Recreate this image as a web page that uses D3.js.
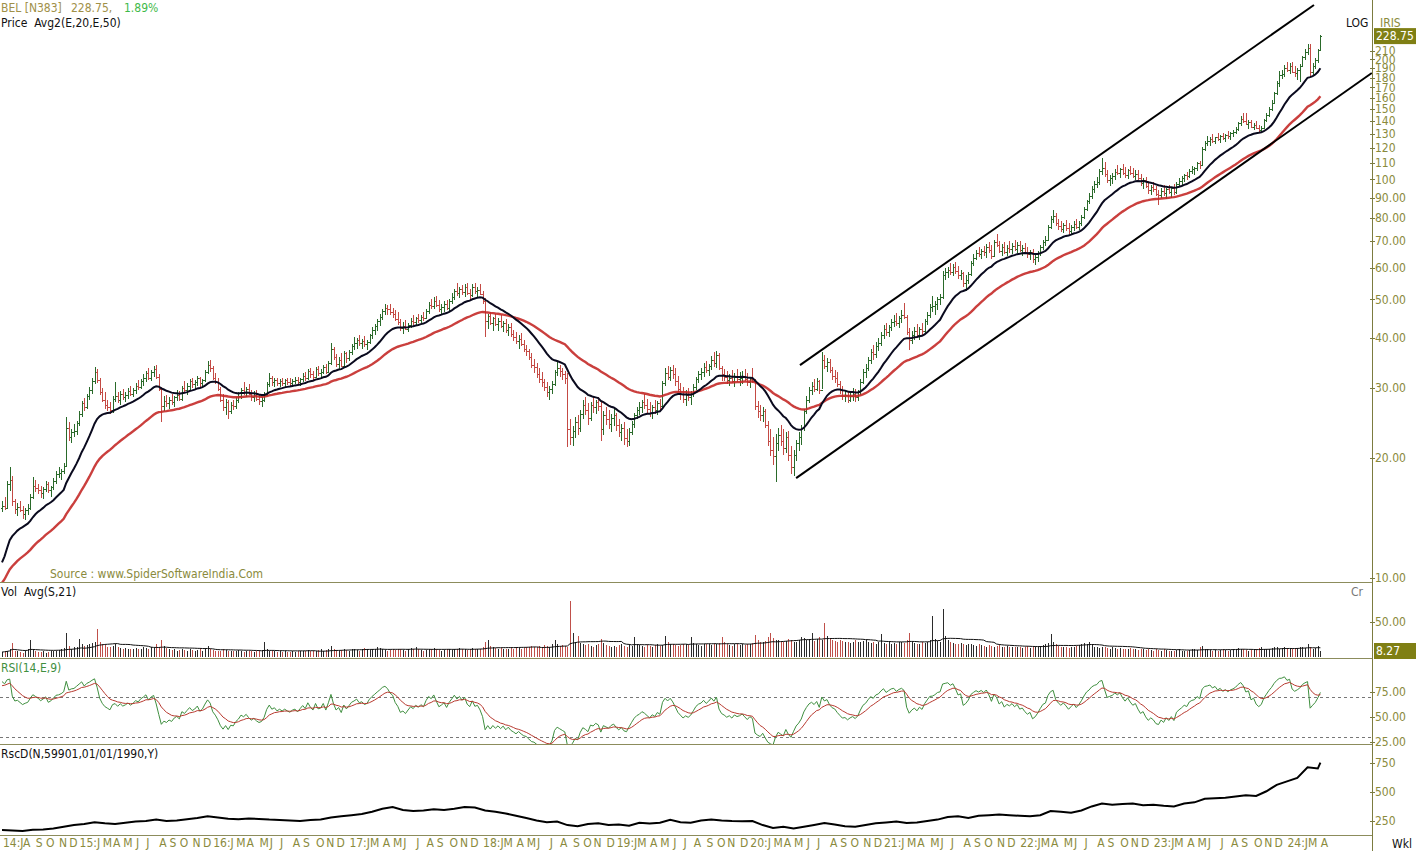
<!DOCTYPE html>
<html>
<head>
<meta charset="utf-8">
<script src="https://cdn.jsdelivr.net/npm/d3@7"></script>
<style>
  body { margin: 0; background: #fff; }
  svg text { font-family: "DejaVu Sans Condensed", "DejaVu Sans", sans-serif; font-size: 12px; }
</style>
</head>
<body>
<svg width="1421" height="851"></svg>
<script>
// weekly bars, [high, low, close], first week ends 13 Jun 2014
const bars2014 = [
  [15.6,14.6,15.2],[16.0,14.8,15.0],[17.5,14.9,17.2],[19.0,16.5,17.6],[18.0,15.2,15.6],[15.8,14.5,14.9],[15.4,14.3,15.1],[15.6,14.6,14.8],[15.2,14.1,14.5],[15.0,14.0,14.8],
  [15.3,14.4,15.0],[16.2,14.8,16.0],[17.9,15.8,17.0],[17.6,16.4,16.8],[17.2,16.2,16.6],[17.0,15.9,16.3],[16.9,15.8,16.7],[17.5,16.4,17.2],[17.4,16.3,16.6],[17.0,16.0,16.9],
  [17.8,16.6,17.5],[18.5,17.2,18.2],[19.0,17.8,18.3],[18.8,17.6,18.6],[19.4,18.2,19.1],[25.4,19.0,23.8],[24.6,22.0,22.6],[23.6,21.8,23.2],[24.4,22.6,23.4]
];
const bars2015 = [
  [24.8,22.8,24.5],[26.2,24.0,25.8],[27.8,25.4,27.4],[28.3,26.2,26.8],[29.0,26.6,28.6],[30.2,28.0,29.6],[31.8,29.0,31.2],[33.8,30.6,32.8],[33.4,30.8,31.4],[31.8,28.8,29.2],
  [30.0,27.6,28.0],[29.2,26.6,27.2],[28.0,26.2,26.8],[27.6,25.8,26.4],[28.6,26.0,28.2],[31.0,27.6,28.6],[29.2,27.4,28.0],[29.4,27.2,28.9],[29.8,28.0,28.4],[29.2,27.6,28.8],
  [30.0,28.2,29.4],[30.4,28.6,29.0],[30.0,28.4,29.6],[30.8,29.0,30.4],[31.4,29.6,30.2],[31.6,29.8,31.2],[32.4,30.4,31.8],[33.0,31.0,32.6],[33.6,31.4,31.8],[33.2,31.2,32.8],
  [34.0,32.0,33.4],[34.2,31.6,32.0],[32.4,29.4,29.8],[30.2,24.6,27.0],[28.6,26.2,27.8],[28.8,26.8,27.4],[28.4,26.6,28.0],[29.0,27.2,27.6],[28.6,26.8,28.4],[29.6,27.8,28.8],
  [29.4,27.8,28.2],[30.4,27.8,30.0],[31.2,29.2,29.6],[30.8,28.8,30.4],[31.6,29.6,31.2],[31.8,30.0,30.6],[31.4,29.6,31.0],[32.2,30.4,31.8],[32.0,30.2,30.8],[31.6,30.0,31.4],
  [33.2,31.0,32.8],[35.0,32.4,34.2]
];
const bars2016 = [
  [35.2,32.8,33.6],[34.0,31.4,31.8],[32.6,30.6,31.0],[31.8,29.4,29.8],[30.2,27.6,28.0],[29.0,26.2,26.8],[28.2,25.6,27.6],[28.0,25.0,26.2],[27.6,25.8,27.2],[28.0,26.4,27.0],
  [28.4,26.6,28.0],[29.2,27.4,28.6],[30.0,28.2,29.6],[31.0,28.8,29.2],[30.2,28.4,29.8],[30.6,28.8,29.0],[29.6,27.8,28.4],[29.4,27.6,28.8],[29.6,27.8,28.2],[28.8,27.2,27.8],
  [28.4,26.8,28.0],[29.2,27.6,28.8],[31.0,28.6,30.6],[32.6,30.2,31.8],[32.2,30.4,31.0],[31.8,30.2,31.4],[31.8,30.4,30.8],[31.6,30.2,31.2],[31.8,30.4,30.9],[31.6,30.2,31.3],
  [31.8,30.5,31.0],[31.7,30.3,30.8],[31.5,30.2,31.2],[31.9,30.6,31.4],[32.0,30.6,31.0],[31.8,30.4,31.6],[32.6,31.0,32.2],[32.8,31.2,31.8],[33.4,31.4,33.0],[33.6,31.8,32.4],
  [33.0,31.4,32.0],[33.8,31.8,33.4],[34.0,32.2,32.6],[33.4,31.8,32.8],[34.2,32.4,33.8],[34.4,32.4,32.8],[35.0,32.6,34.6],[38.8,34.2,37.6],[38.0,35.2,35.8],[36.4,33.8,34.4],
  [35.8,33.4,35.2],[36.6,33.8,34.0],[37.0,33.6,36.6]
];
const bars2017 = [
  [36.8,34.6,35.6],[37.4,35.0,36.8],[38.6,36.2,38.2],[40.3,37.4,38.8],[40.0,37.6,39.6],[40.6,38.2,38.8],[39.8,37.6,39.2],[40.4,38.0,38.6],[39.6,37.4,39.0],[41.0,38.6,40.6],
  [42.6,39.8,41.8],[43.4,40.6,42.8],[44.6,41.6,44.0],[46.0,42.8,45.2],[47.4,44.4,46.8],[48.6,45.6,47.6],[48.4,45.8,47.2],[48.8,45.8,46.4],[47.6,45.0,46.0],[47.0,44.0,44.6],
  [46.4,43.2,43.8],[44.6,41.6,42.4],[43.8,41.0,42.8],[44.4,41.8,42.2],[43.6,41.4,43.2],[44.8,42.4,44.2],[45.6,43.2,43.8],[45.2,43.0,44.8],[46.0,43.6,44.4],[45.8,43.6,45.2],
  [46.4,44.0,44.8],[47.4,44.6,46.8],[49.2,46.0,48.4],[50.0,47.2,48.0],[50.6,47.4,49.6],[51.0,47.8,48.4],[49.8,46.6,47.2],[48.6,45.8,47.8],[49.4,46.6,48.6],[49.8,47.0,47.6],
  [50.0,46.8,49.4],[51.8,48.6,50.8],[53.2,49.8,52.6],[54.8,51.0,51.8],[53.6,50.4,53.0],[54.4,51.4,52.2],[54.6,50.6,53.6],[54.8,51.2,52.0],[53.2,49.8,51.4],[54.6,50.6,53.8],
  [55.0,51.6,52.4],[53.8,50.4,52.8]
];
const bars2018 = [
  [54.6,51.2,51.6],[52.4,48.6,49.6],[50.4,40.2,44.0],[46.0,42.2,45.4],[46.4,43.0,43.6],[45.2,41.6,44.8],[46.0,42.8,43.4],[44.8,41.6,44.2],[45.6,42.4,42.8],[44.2,41.4,43.6],
  [44.6,41.2,41.8],[43.4,40.4,42.6],[43.6,40.2,41.0],[41.8,39.4,40.2],[41.4,38.6,39.2],[40.6,37.6,39.8],[41.2,38.2,38.6],[39.6,36.8,37.6],[38.4,36.0,37.2],[37.6,35.2,35.8],
  [36.6,33.6,34.2],[35.4,32.6,33.8],[34.6,31.8,32.4],[33.6,30.8,31.6],[32.8,30.2,31.0],[31.6,29.4,30.2],[31.0,28.4,29.2],[30.4,28.0,29.8],[31.2,29.0,30.6],[33.2,30.4,32.8],
  [35.0,32.2,33.6],[34.2,32.0,33.0],[33.6,31.4,32.4],[33.0,30.6,31.8],[32.6,21.3,23.6],[25.0,21.6,22.6],[24.0,21.4,23.4],[25.4,22.4,24.6],[25.6,22.8,23.8],[26.4,23.2,25.8],
  [28.0,25.0,27.2],[28.4,25.6,26.4],[27.4,24.2,25.2],[27.6,24.8,27.2],[28.4,26.0,26.8],[28.0,25.8,27.6],[28.4,26.2,27.0],[27.6,22.0,23.6],[26.2,22.8,25.6],[26.8,24.2,25.0],
  [26.4,23.6,24.4],[25.8,23.2,25.2]
];
const bars2019 = [
  [26.6,24.0,25.6],[26.0,23.4,24.2],[25.0,22.6,23.2],[24.4,22.0,23.8],[24.6,21.6,22.4],[23.6,21.3,22.0],[23.8,21.4,23.2],[24.8,22.8,24.4],[26.0,23.8,25.6],[26.8,25.0,26.4],
  [27.6,25.6,26.8],[28.0,26.0,27.6],[29.0,26.6,27.2],[28.2,26.0,26.6],[27.6,25.4,26.0],[27.2,25.0,26.8],[28.0,25.8,26.4],[27.8,25.6,27.4],[28.2,26.2,27.0],[31.2,26.8,30.8],
  [33.6,30.4,32.6],[34.0,31.4,32.0],[33.8,31.2,33.2],[34.2,31.6,32.4],[33.6,30.4,31.2],[32.2,29.2,29.8],[30.8,28.0,29.0],[30.2,27.4,28.2],[29.6,27.0,28.8],[30.0,27.8,28.4],
  [29.4,27.2,29.0],[30.6,28.4,30.2],[32.0,29.6,31.6],[33.0,30.8,32.4],[33.6,31.4,32.8],[34.6,32.0,33.8],[35.0,32.6,33.2],[34.4,32.2,34.0],[36.0,33.2,35.2],[36.8,33.8,34.6],
  [37.0,33.6,36.2],[36.6,33.2,33.6],[34.0,31.2,32.4],[33.4,31.2,32.0],[33.0,30.6,31.4],[32.4,30.4,31.8],[33.2,30.8,31.2],[32.6,30.2,32.0],[33.4,31.0,31.6],[32.8,30.4,31.8],
  [33.0,30.6,32.2],[33.4,31.2,31.6]
];
const bars2020 = [
  [32.6,30.4,31.0],[32.0,30.0,31.6],[33.6,30.8,31.2],[31.6,26.4,27.0],[27.8,25.2,26.2],[27.2,24.8,25.6],[26.8,24.6,26.2],[26.6,23.8,24.2],[24.8,21.4,22.0],[23.6,20.2,21.0],
  [22.6,19.2,20.2],[23.0,17.4,21.8],[23.8,20.8,22.8],[24.2,21.4,22.0],[23.6,20.4,21.2],[23.2,20.6,22.6],[23.4,19.6,20.4],[21.4,18.2,19.0],[21.0,18.0,20.4],[22.2,19.6,21.8],
  [23.2,20.8,22.6],[24.2,21.6,23.8],[26.6,23.4,26.2],[28.6,25.8,28.0],[30.2,27.4,29.6],[31.0,28.8,30.4],[31.6,29.2,29.8],[31.8,29.4,31.2],[31.4,29.0,29.6],[36.8,29.8,35.2],
  [36.2,33.4,34.0],[35.6,32.8,34.8],[35.4,32.6,33.2],[33.8,31.4,32.2],[33.2,30.8,31.8],[32.8,30.2,30.6],[31.2,29.0,29.6],[30.4,28.0,28.6],[29.6,27.6,28.8],[29.4,27.4,28.0],
  [29.2,27.6,28.6],[30.0,27.8,29.0],[29.8,27.6,28.4],[29.6,27.8,29.2],[31.6,28.8,31.0],[33.4,30.6,32.8],[34.4,31.8,33.6],[35.8,33.0,35.2],[37.6,34.4,36.8],[38.4,35.2,36.4],
  [39.0,35.6,38.2],[40.0,37.0,38.8]
];
const bars2021 = [
  [41.4,38.2,40.6],[43.0,39.8,42.2],[43.6,40.4,41.4],[43.0,40.2,42.6],[44.6,41.6,43.8],[45.8,42.6,44.2],[46.2,42.8,43.6],[45.4,42.4,44.8],[47.0,43.6,45.6],[49.0,44.6,45.2],
  [45.6,40.6,41.4],[42.4,37.4,39.6],[41.6,38.6,40.8],[42.6,39.6,41.6],[43.4,40.2,40.8],[42.6,39.6,42.2],[43.6,40.8,41.6],[44.6,41.2,44.0],[46.4,43.2,45.8],[48.6,45.0,47.8],
  [51.0,46.6,48.0],[49.6,45.8,48.8],[50.8,47.0,50.2],[51.6,48.4,50.6],[58.8,50.2,57.6],[60.0,56.0,58.4],[60.4,56.6,59.2],[61.8,57.4,58.6],[61.2,57.2,60.2],[62.0,58.0,59.0],
  [60.8,56.4,57.4],[59.4,55.8,58.2],[58.6,53.8,54.8],[57.4,52.4,55.8],[58.4,54.6,57.8],[62.4,57.2,61.8],[64.8,60.6,63.6],[66.4,62.6,65.2],[67.6,63.8,64.8],[67.0,63.0,66.2],
  [68.2,64.2,65.6],[68.8,63.6,67.8],[69.6,65.2,66.4],[68.4,63.0,64.4],[70.6,63.8,69.8],[73.0,67.6,68.6],[70.2,65.4,66.2],[69.0,64.2,67.8],[69.6,64.8,65.6],[68.6,64.2,67.4],
  [70.0,65.4,66.8],[69.2,65.0,68.2],[70.4,66.0,67.0]
];
const bars2022 = [
  [69.6,65.2,68.4],[70.0,65.8,66.6],[68.4,64.2,67.2],[69.2,64.8,65.8],[67.6,63.4,64.8],[66.4,62.6,65.6],[66.8,61.6,63.0],[64.6,61.0,63.8],[66.0,62.2,65.4],[68.4,64.4,67.6],
  [70.6,66.6,69.8],[72.0,68.0,70.6],[77.0,70.0,76.0],[81.0,75.0,79.6],[83.6,77.8,81.0],[82.4,76.6,77.6],[79.6,74.6,76.2],[78.6,73.6,75.2],[77.8,73.2,76.8],[79.0,74.4,75.6],
  [77.6,73.0,74.2],[76.8,72.8,75.8],[78.6,74.4,77.4],[79.4,75.0,76.0],[78.4,74.6,77.8],[81.2,76.6,80.4],[85.0,79.6,84.2],[89.0,83.2,88.2],[92.4,86.8,90.6],[96.0,89.2,94.8],
  [99.0,92.6,97.2],[101.6,95.0,98.6],[106.4,96.8,104.8],[113.0,102.4,107.0],[110.6,101.6,103.2],[105.4,97.8,99.4],[102.8,96.0,100.6],[103.6,97.4,101.8],[106.0,99.6,104.6],[108.8,102.4,103.8],
  [107.0,100.6,106.2],[109.2,102.8,104.0],[107.6,101.0,102.4],[106.4,100.2,105.6],[108.0,102.4,103.6],[106.8,100.8,102.0],[105.4,99.4,103.4],[105.8,99.6,100.6],[103.4,96.2,98.2],[101.0,94.6,99.4],
  [101.6,95.4,96.4],[98.8,92.0,94.2]
];
const bars2023 = [
  [97.0,91.6,95.6],[98.4,93.0,94.4],[96.2,90.6,92.0],[94.0,86.0,91.4],[95.2,89.8,93.6],[96.6,90.8,92.2],[95.4,89.4,94.6],[97.0,91.8,93.0],[95.8,89.6,95.0],[97.4,91.4,92.8],
  [98.4,91.8,97.6],[100.6,95.6,99.2],[101.8,97.0,100.6],[103.4,98.6,102.4],[104.6,99.8,101.8],[106.2,100.6,105.2],[108.0,103.2,106.4],[107.6,102.8,107.0],[110.4,104.8,109.6],[111.4,106.0,108.8],
  [120.6,108.6,119.4],[125.0,117.6,123.6],[128.2,121.4,124.6],[127.4,121.6,126.2],[129.6,123.4,125.0],[128.0,122.8,127.4],[130.4,124.6,126.0],[129.2,123.2,128.2],[131.0,125.4,127.0],[130.0,124.4,129.2],
  [132.2,126.6,128.4],[131.4,125.8,130.6],[133.0,127.4,131.8],[135.2,129.6,134.0],[139.4,132.6,138.2],[143.8,136.4,141.6],[147.0,138.8,140.4],[146.4,136.6,138.0],[141.2,134.0,139.4],[141.0,134.4,135.6],
  [138.6,132.8,137.2],[139.8,133.4,134.4],[137.0,131.0,133.2],[136.0,131.4,134.8],[141.4,133.6,140.6],[146.4,139.0,145.0],[152.0,143.4,150.4],[158.0,148.6,155.6],[166.0,154.4,164.8],[176.0,162.6,174.2],
  [187.0,170.4,182.6],[188.4,178.6,184.0]
];
const bars2024 = [
  [194.0,180.6,190.6],[197.0,185.6,188.4],[195.4,183.4,192.8],[196.6,184.6,186.2],[192.0,181.0,184.6],[190.6,178.0,188.0],[194.4,175.0,192.4],[204.0,191.0,202.6],[212.4,199.6,208.8],[218.0,204.6,213.4],
  [218.4,181.0,186.4],[195.6,182.4,192.6],[201.0,189.4,198.8],[212.0,196.0,210.6],[230.4,210.0,228.75]
];

// weekly volume, crore
const vol2014 = [7,8,9,11,20,9,8,7,6,8,12,25,10,8,7,7,8,6,7,8,9,8,10,11,13,34,16,12,14];
const vol2015 = [15,26,18,16,17,19,20,22,40,21,18,17,15,14,16,18,14,13,12,13,12,11,12,13,11,12,14,13,12,14,13,18,15,24,16,13,11,10,11,9,10,12,10,9,11,10,9,10,11,9,12,16];
const vol2016 = [12,10,9,8,9,11,10,9,8,8,9,10,8,7,8,9,8,7,8,9,10,22,11,9,8,8,7,8,7,8,7,7,8,7,8,9,8,9,10,9,8,9,10,11,9,10,12,16,11,10,9,10,12];
const vol2017 = [10,9,11,12,10,9,11,13,12,10,11,12,14,13,11,10,9,10,11,10,12,11,10,9,11,13,12,14,11,10,9,10,11,12,13,11,10,9,10,12,11,10,11,12,13,12,11,10,12,13,11,12];
const vol2018 = [12,14,22,25,16,14,13,12,13,12,11,12,13,12,14,13,12,13,14,15,16,15,14,16,15,17,16,15,18,25,18,16,17,16,15,80,35,22,30,20,18,17,19,16,15,17,18,26,20,17,16,15];
const vol2019 = [16,15,17,18,16,15,17,16,28,18,17,16,15,17,16,15,17,18,16,17,30,22,19,18,17,16,17,18,19,17,28,20,18,17,16,18,19,18,17,18,19,20,28,21,18,17,16,18,19,17,18,17];
const vol2020 = [18,19,20,32,24,22,21,23,28,35,27,25,24,22,21,23,26,24,22,21,25,28,27,24,26,35,23,26,28,24,48,30,27,25,23,22,24,23,21,22,20,21,24,22,21,23,25,22,20,21,19,22];
const vol2021 = [33,20,19,21,18,20,19,22,21,20,24,35,22,20,19,18,21,20,22,24,58,26,23,22,68,30,24,22,20,19,18,20,19,17,18,19,17,16,18,17,16,15,17,16,15,16,17,15,14,16,15,14,15];
const vol2022 = [14,15,13,14,16,13,14,15,14,16,17,18,20,33,22,18,16,15,14,15,13,14,15,16,17,19,20,18,22,17,15,14,13,14,15,13,12,14,13,12,13,12,11,12,13,12,11,10,12,11,10,11];
const vol2023 = [10,9,11,10,9,12,10,9,8,9,10,11,9,8,9,10,11,12,10,14,16,12,11,10,9,10,9,10,11,10,9,10,12,11,13,12,11,10,9,10,11,12,13,14,12,11,12,13,15,14,12,13];
const vol2024 = [14,12,13,11,12,13,15,14,13,18,14,12,13,16,8.27];

// relative strength vs Nifty, one reading every 4 weeks
const rscdValues = [
  172,168,165,175,178,185,200,215,225,240, 230,225,235,245,250,262,250,255,265,275,
  290,280,270,265,272,268,262,258,255,250, 258,262,280,290,300,310,330,355,370,345,
  335,340,350,345,355,370,365,340,330,315, 295,275,255,240,245,215,205,225,230,215,
  220,210,235,228,235,260,240,235,255,262, 255,250,248,250,215,190,200,185,200,215,
  232,220,205,200,215,230,238,245,232,238, 250,262,285,290,275,295,300,305,300,295,
  290,300,335,330,320,340,375,400,390,395, 400,385,390,380,375,400,410,440,445,450,
  460,470,465,505,560,590,620,710,700,750
];
const rscdStep = 4;

const firstOpen = 15.0;
const emaSeed = { fast: 10.5, slow: 9.5 };
const rsiSeed = { gain: 0.5, loss: 0.09, signal: 80 };

const priceTicks = [10,20,30,40,50,60,70,80,90,100,110,120,130,140,150,160,170,180,190,200,210];
const volTicks = [50];
const rsiTicks = [75,50,25];
const rsiLevels = [70,30];
const rscdTicks = [750,500,250];

// trend channel drawn on the chart: [week index, price]
const channelUpper = [[310.5, 34.2], [510.5, 273.8]];
const channelLower = [[309, 17.8], [533, 184.9]];

const startDate = new Date(2014, 5, 13);
const monthLetters = "JFMAMJJASOND";

// ---------------------------------------------------------------
const bars = [].concat(bars2014, bars2015, bars2016, bars2017, bars2018, bars2019,
  bars2020, bars2021, bars2022, bars2023, bars2024);
const vol = [].concat(vol2014, vol2015, vol2016, vol2017, vol2018, vol2019,
  vol2020, vol2021, vol2022, vol2023, vol2024);
const n = bars.length;
const close = bars.map(b => b[2]);
const open = close.map((c, i) => i ? close[i - 1] : firstOpen);
const dates = d3.range(n).map(i => d3.timeDay.offset(startDate, 7 * i));

function ema(vals, period, seed) {
  const k = 2 / (period + 1);
  let e = seed;
  return vals.map(v => (e = e + k * (v - e)));
}
const ema20 = ema(close, 20, emaSeed.fast);
const ema50 = ema(close, 50, emaSeed.slow);

let ag = rsiSeed.gain, al = rsiSeed.loss;
const rsi = close.map((c, i) => {
  const ch = c - open[i];
  ag = (ag * 13 + Math.max(ch, 0)) / 14;
  al = (al * 13 + Math.max(-ch, 0)) / 14;
  return 100 - 100 / (1 + ag / al);
});
const rsiSig = ema(rsi, 9, rsiSeed.signal);
const volAvg = vol.map((v, i) => d3.mean(vol.slice(Math.max(0, i - 20), i + 1)));

const svg = d3.select("svg");
const axisX = 1372;
const olive = "#8a8a3c";
const upCol = "#2a6a2a", dnCol = "#c44a44";

const x = d3.scaleLinear().domain([0, n - 1]).range([2, 1320.4]);
const yPrice = d3.scaleLog().domain([10, 281.8]).range([578, 0]);
const yVol = d3.scaleLinear().domain([0, 50]).range([657, 622]);
const yRsi = d3.scaleLinear().domain([25, 75]).range([741.7, 691.7]);
const yRsc = d3.scaleLinear().domain([250, 750]).range([821, 762.7]);

const panels = [
  { id: "cp", y0: 0, y1: 582 },
  { id: "cv", y0: 583, y1: 658 },
  { id: "cr", y0: 659, y1: 744 },
  { id: "cs", y0: 745, y1: 835 }
];
const defs = svg.append("defs");
panels.forEach(p => {
  defs.append("clipPath").attr("id", p.id).append("rect")
    .attr("x", 0).attr("y", p.y0).attr("width", axisX).attr("height", p.y1 - p.y0);
});

// panel separators
svg.append("g").selectAll("line").data([582.5, 658.5, 744.5, 835.5]).join("line")
  .attr("x1", 0).attr("x2", axisX).attr("y1", d => d).attr("y2", d => d)
  .attr("stroke", "#8c8c5c").attr("stroke-width", 1);

// ---------------- price panel
const pg = svg.append("g").attr("clip-path", "url(#cp)");
const px = i => Math.round(x(i)) + 0.5;
pg.append("g").attr("shape-rendering", "crispEdges").selectAll("path").data(bars).join("path")
  .attr("d", (b, i) => {
    const xx = px(i);
    return `M${xx},${yPrice(b[0])}V${yPrice(b[1])}` +
      `M${xx - 1.5},${Math.round(yPrice(open[i])) + 0.5}H${xx}` +
      `M${xx},${Math.round(yPrice(b[2])) + 0.5}H${xx + 1.5}`;
  })
  .attr("fill", "none")
  .attr("stroke", (b, i) => b[2] >= open[i] ? upCol : dnCol)
  .attr("stroke-width", 1);

const priceLine = d3.line().x((d, i) => x(i)).y(d => yPrice(d));
pg.append("path").attr("d", priceLine(ema50)).attr("fill", "none")
  .attr("stroke", "#c42a28").attr("stroke-width", 2.4).attr("stroke-opacity", 0.9);
pg.append("path").attr("d", priceLine(ema20)).attr("fill", "none")
  .attr("stroke", "#0a0a1e").attr("stroke-width", 2);

const chLine = d3.line().x(d => x(d[0])).y(d => yPrice(d[1]));
[channelUpper, channelLower].forEach(c => {
  pg.append("path").attr("d", chLine(c)).attr("fill", "none")
    .attr("stroke", "#000").attr("stroke-width", 2);
});

pg.append("text").attr("x", 50).attr("y", 578).attr("fill", olive)
  .text("Source : www.SpiderSoftwareIndia.Com");

// ---------------- volume panel
const vg = svg.append("g").attr("clip-path", "url(#cv)");
vg.append("g").attr("shape-rendering", "crispEdges").selectAll("line").data(vol).join("line")
  .attr("x1", (d, i) => px(i)).attr("x2", (d, i) => px(i))
  .attr("y1", yVol(0)).attr("y2", d => yVol(d))
  .attr("stroke", (d, i) => close[i] >= open[i] ? "#2b2b2b" : "#c0504a");
vg.append("path").attr("d", d3.line().x((d, i) => x(i)).y(d => yVol(d))(volAvg))
  .attr("fill", "none").attr("stroke", "#111").attr("stroke-width", 1);

// ---------------- RSI panel
const rg = svg.append("g").attr("clip-path", "url(#cr)");
rg.selectAll("line.lvl").data(rsiLevels).join("line").attr("class", "lvl")
  .attr("x1", 0).attr("x2", axisX).attr("y1", d => Math.round(yRsi(d)) + 0.5).attr("y2", d => Math.round(yRsi(d)) + 0.5)
  .attr("stroke", "#777").attr("stroke-dasharray", "3,3");
const rsiLine = d3.line().x((d, i) => x(i)).y(d => yRsi(d));
rg.append("path").attr("d", rsiLine(rsi)).attr("fill", "none").attr("stroke", "#3f8f3f").attr("stroke-width", 1);
rg.append("path").attr("d", rsiLine(rsiSig)).attr("fill", "none").attr("stroke", "#b83a30").attr("stroke-width", 1);

// ---------------- RscD panel
const sg = svg.append("g").attr("clip-path", "url(#cs)");
sg.append("path")
  .attr("d", d3.line().x((d, k) => x(Math.min(k * rscdStep, n - 1))).y(d => yRsc(d))(rscdValues))
  .attr("fill", "none").attr("stroke", "#000").attr("stroke-width", 2);

// ---------------- right axis
const ax = svg.append("g");
ax.append("line").attr("x1", axisX + 0.5).attr("x2", axisX + 0.5).attr("y1", 0).attr("y2", 851)
  .attr("stroke", "#7c7c40");
function ticks(vals, scale, fmt) {
  const g = ax.append("g");
  g.selectAll("line").data(vals).join("line")
    .attr("x1", axisX - 2).attr("x2", axisX + 3)
    .attr("y1", d => Math.round(scale(d)) + 0.5).attr("y2", d => Math.round(scale(d)) + 0.5)
    .attr("stroke", "#7c7c40");
  g.selectAll("text").data(vals).join("text")
    .attr("x", axisX + 3).attr("y", d => scale(d)).attr("dy", "0.35em")
    .attr("fill", olive).text(fmt);
}
ticks(priceTicks, yPrice, d => d < 100 ? d.toFixed(2) : String(d));
ticks(volTicks, yVol, d => d.toFixed(2));
ticks(rsiTicks, yRsi, d => d.toFixed(2));
ticks(rscdTicks, yRsc, d => String(d));

function valueBox(y, label) {
  ax.append("rect").attr("x", axisX + 2).attr("y", y - 8).attr("width", 42).attr("height", 16).attr("fill", "#7f7f14");
  ax.append("text").attr("x", axisX + 4).attr("y", y).attr("dy", "0.35em").attr("fill", "#fff").text(label);
}
valueBox(yPrice(close[n - 1]), close[n - 1].toFixed(2));
valueBox(651, vol[n - 1].toFixed(2));

// ---------------- titles
svg.append("text").attr("x", 1).attr("y", 12).attr("fill", "#a09048").text("BEL [N383]");
svg.append("text").attr("x", 71).attr("y", 12).attr("fill", "#a09048").text("228.75,");
svg.append("text").attr("x", 124).attr("y", 12).attr("fill", "#3fba4a").text("1.89%");
svg.append("text").attr("x", 1).attr("y", 27).attr("fill", "#111").attr("xml:space", "preserve").text("Price  Avg2(E,20,E,50)");
svg.append("text").attr("x", 1346).attr("y", 27).attr("fill", "#111").text("LOG");
svg.append("text").attr("x", 1380).attr("y", 27).attr("fill", olive).text("IRIS");
svg.append("text").attr("x", 1).attr("y", 596).attr("fill", "#111").attr("xml:space", "preserve").text("Vol  Avg(S,21)");
svg.append("text").attr("x", 1351).attr("y", 596).attr("fill", "#777").text("Cr");
svg.append("text").attr("x", 1).attr("y", 672).attr("fill", "#3f8f3f").text("RSI(14,E,9)");
svg.append("text").attr("x", 1).attr("y", 758).attr("fill", "#111").text("RscD(N,59901,01/01/1990,Y)");
svg.append("text").attr("x", 1392).attr("y", 848).attr("fill", "#111").text("Wkl");

// ---------------- month labels
const xl = svg.append("g").attr("fill", olive).style("font-size", "11px");
let lastEnd = -100;
dates.forEach((d, i) => {
  const prev = i ? dates[i - 1] : null;
  if (prev && d.getMonth() === prev.getMonth()) return;
  if (!prev && d.getDate() > 7) return;
  const first = lastEnd < 0;
  const yr = d.getMonth() === 0 || first;
  const label = (yr ? String(d.getFullYear()).slice(2) + ":" : "") + monthLetters[d.getMonth()];
  const lx = first ? 3 : x(i) + 3;
  if (!yr && lx < lastEnd - 1.5) return;
  const t = xl.append("text").attr("x", lx).attr("y", 847).text(label);
  lastEnd = lx + t.node().getComputedTextLength();
});
</script>
</body>
</html>
